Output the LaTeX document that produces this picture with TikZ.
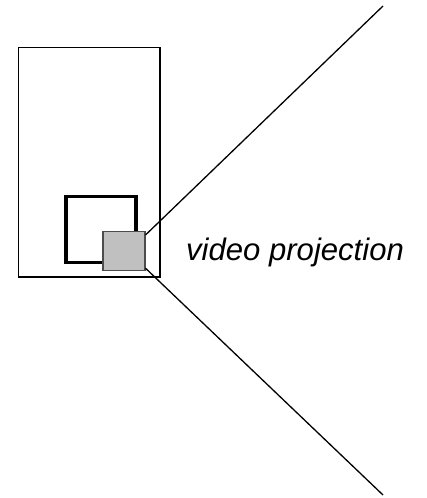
\documentclass[tikz,border=0pt]{standalone}
\usepackage{fontspec}
\setmainfont{Liberation Sans}
\definecolor{projgray}{RGB}{192,192,192}
\tikzset{
  frame/.style={draw=black, line width=1.3bp},
  screen/.style={draw=black, line width=3.5bp},
  projector/.style={draw=black!70, fill=projgray, line width=1.2bp},
  beam/.style={draw=black, line width=1.3bp},
  label/.style={font=\fontsize{31.2}{36}\selectfont\itshape, anchor=base west, inner sep=0pt}
}
\begin{document}
\begin{tikzpicture}[x=1bp, y=-1bp]
\useasboundingbox (0,0) rectangle (426,498);
\draw[frame] (18.5,47.7) rectangle (160,277);
\draw[screen] (66,196.7) rectangle (136,262.3);
\node[projector, minimum width=42bp, minimum height=39bp, inner sep=0pt, anchor=north west] (proj) at (102.3,231) {};
\coordinate (top) at (383,6);
\coordinate (bot) at (383,495);
\draw[beam] ([yshift=-4bp]proj.north east) -- (top);
\draw[beam] ([yshift=3bp]proj.south east) -- (bot);
\node[label] (txt) at (186,260) {video projection};
\end{tikzpicture}
\end{document}
